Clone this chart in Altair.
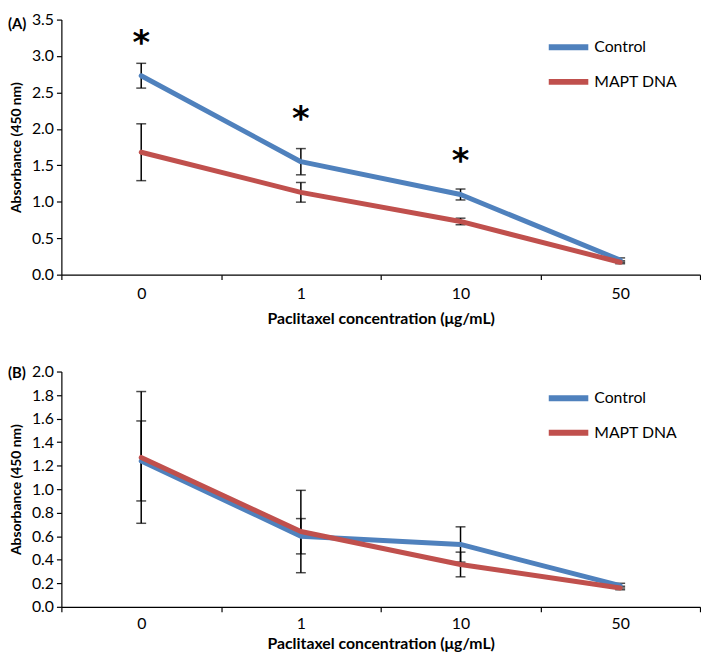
import altair as alt
import pandas as pd

# ---------------- data ----------------
conc = ["0", "1", "10", "50"]
series = ["Control", "MAPT DNA"]
colors = ["#4F81BD", "#C0504D"]

a_control = [2.73, 1.55, 1.10, 0.20]
a_control_err = [0.17, 0.18, 0.075, 0.03]
a_mapt = [1.68, 1.13, 0.73, 0.17]
a_mapt_err = [0.39, 0.135, 0.045, 0.02]
a_star_conc = ["0", "1", "10"]
a_star_y = [3.22, 2.18, 1.60]

b_control = [1.24, 0.60, 0.53, 0.18]
b_control_err = [0.34, 0.15, 0.15, 0.02]
b_mapt = [1.27, 0.64, 0.36, 0.16]
b_mapt_err = [0.56, 0.35, 0.105, 0.015]

a_ticks = [0, 0.5, 1.0, 1.5, 2.0, 2.5, 3.0, 3.5]
b_ticks = [0, 0.2, 0.4, 0.6, 0.8, 1.0, 1.2, 1.4, 1.6, 1.8, 2.0]

FONT = "Lato"
X_TITLE = "Paclitaxel concentration (μg/mL)"
Y_TITLE = "Absorbance (450 nm)"


def make_df(ctrl, ctrl_err, mapt, mapt_err):
    rows = []
    for name, vals, errs in [(series[0], ctrl, ctrl_err), (series[1], mapt, mapt_err)]:
        for c, v, e in zip(conc, vals, errs):
            rows.append({"conc": c, "series": name, "value": v, "lo": v - e, "hi": v + e})
    return pd.DataFrame(rows)


def panel(df, domain, ticks, label, label_dy, stars, height, legend_y, label_pad, title_pad):
    x = alt.X(
        "conc:N",
        sort=conc,
        bandPosition=0.5,
        scale=alt.Scale(type="band", paddingInner=0, paddingOuter=0),
        axis=alt.Axis(
            title=X_TITLE,
            labelAngle=0,
            tickBand="extent",
            tickSize=5,
            labelPadding=label_pad,
            titlePadding=title_pad,
            labelFontSize=16,
            labelFont=FONT,
            titleFontSize=16,
            titleFont=FONT,
            titleFontWeight="bold",
            grid=False,
        ),
    )
    yscale = alt.Scale(domain=domain, nice=False, zero=True)
    yaxis = alt.Axis(title=Y_TITLE, values=ticks, format=".1f", tickSize=5,
                     labelPadding=3, titlePadding=8, labelFontSize=16, labelFont=FONT,
                     titleFontSize=14, titleFont=FONT, titleFontWeight="bold", grid=False)

    base = alt.Chart(df)
    err = base.mark_rule(color="black", strokeWidth=1.5).encode(
        x=x, y=alt.Y("lo:Q", scale=yscale, axis=yaxis), y2="hi:Q"
    )
    cap_lo = base.mark_tick(color="black", thickness=1.5, size=10, orient="horizontal").encode(
        x=x, y=alt.Y("lo:Q", scale=yscale, axis=yaxis)
    )
    cap_hi = base.mark_tick(color="black", thickness=1.5, size=10, orient="horizontal").encode(
        x=x, y=alt.Y("hi:Q", scale=yscale, axis=yaxis)
    )
    lines = base.mark_line(strokeWidth=5, strokeCap="round", strokeJoin="round").encode(
        x=x,
        y=alt.Y("value:Q", scale=yscale, axis=yaxis),
        color=alt.Color(
            "series:N",
            scale=alt.Scale(domain=series, range=colors),
            legend=alt.Legend(
                title=None,
                orient="none",
                legendX=490,
                legendY=legend_y,
                symbolType="stroke",
                symbolSize=1600,
                symbolStrokeWidth=6,
                labelFontSize=16,
                labelFont=FONT,
                labelOffset=3,
                rowPadding=0,
            ),
        ),
    )
    layers = [err, cap_lo, cap_hi, lines]
    if stars is not None:
        sdf = pd.DataFrame({"conc": stars[0], "y": stars[1], "t": ["*"] * len(stars[0])})
        star = alt.Chart(sdf).mark_text(
            fontSize=34, fontWeight="bold", font="DejaVu Sans", baseline="middle", dy=4
        ).encode(x=x, y=alt.Y("y:Q", scale=yscale, axis=yaxis), text="t:N")
        layers.append(star)
    ldf = pd.DataFrame({"t": [label]})
    lab = alt.Chart(ldf).mark_text(
        align="left", baseline="middle", fontSize=15, fontWeight="bold", font=FONT
    ).encode(x=alt.value(-54), y=alt.value(label_dy), text="t:N")
    layers.append(lab)
    return alt.layer(*layers).properties(width=646, height=height)


dfa = make_df(a_control, a_control_err, a_mapt, a_mapt_err)
dfb = make_df(b_control, b_control_err, b_mapt, b_mapt_err)

pa = panel(dfa, [0, 3.5], a_ticks, "(A)", 5, (a_star_conc, a_star_y), 258, 5, 6, 9)
pb = panel(dfb, [0, 2.0], b_ticks, "(B)", 2, None, 238, 4, 4, 4)

chart = (
    alt.vconcat(pa, pb, spacing=38)
    .resolve_legend(color="independent")
    .configure(padding=0, font=FONT)
    .configure_view(stroke=None)
    .configure_axis(
        domainColor="black",
        tickColor="black",
        domainWidth=1.2,
        tickWidth=1.2,
        labelColor="black",
        titleColor="black",
    )
)

chart.save("out.html", embed_options={"renderer": "svg", "actions": False})
